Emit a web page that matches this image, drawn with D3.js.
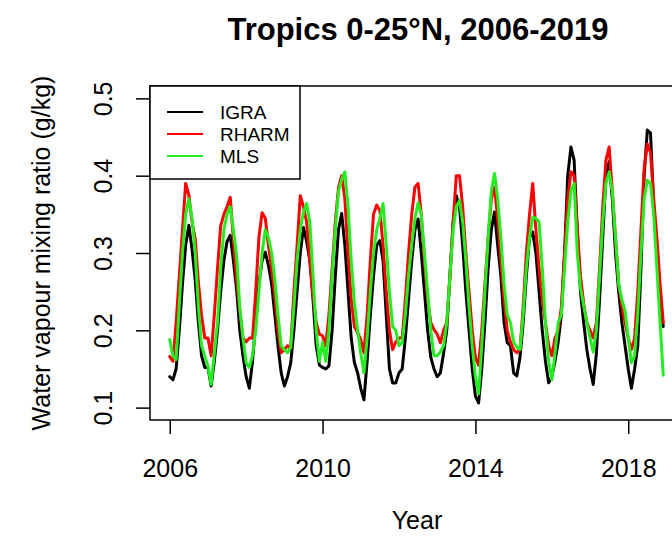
<!DOCTYPE html>
<html>
<head>
<meta charset="utf-8">
<script src="https://cdn.jsdelivr.net/npm/d3@7"></script>
<style>
    body { margin: 0; background: #fff; }
    svg text { font-family: "Liberation Sans", Arial, sans-serif; fill: #000; }
</style>
</head>
<body>
<div id="chart"></div>
<script>
// monthly means, Jan 2006 .. Dec 2018 (one row per year)
const startYear = 2006;

const igra = [
    0.140, 0.136, 0.150, 0.200, 0.260, 0.310, 0.336, 0.305, 0.265, 0.210, 0.167, 0.152,
    0.152, 0.128, 0.160, 0.200, 0.250, 0.290, 0.315, 0.323, 0.290, 0.253, 0.200, 0.167,
    0.140, 0.125, 0.160, 0.210, 0.260, 0.290, 0.301, 0.284, 0.260, 0.220, 0.180, 0.145,
    0.128, 0.140, 0.158, 0.200, 0.250, 0.300, 0.333, 0.315, 0.290, 0.240, 0.180, 0.155,
    0.152, 0.150, 0.154, 0.200, 0.270, 0.330, 0.351, 0.310, 0.250, 0.190, 0.158, 0.145,
    0.125, 0.110, 0.160, 0.220, 0.270, 0.310, 0.316, 0.290, 0.220, 0.150, 0.132, 0.132,
    0.145, 0.150, 0.190, 0.240, 0.290, 0.330, 0.344, 0.300, 0.250, 0.200, 0.165, 0.150,
    0.140, 0.145, 0.170, 0.200, 0.270, 0.340, 0.374, 0.360, 0.310, 0.250, 0.200, 0.150,
    0.115, 0.106, 0.150, 0.210, 0.280, 0.330, 0.353, 0.310, 0.270, 0.210, 0.184, 0.180,
    0.145, 0.141, 0.165, 0.210, 0.270, 0.320, 0.327, 0.300, 0.250, 0.200, 0.160, 0.132,
    0.140, 0.160, 0.185, 0.220, 0.300, 0.400, 0.437, 0.420, 0.330, 0.250, 0.210, 0.175,
    0.150, 0.130, 0.170, 0.240, 0.320, 0.400, 0.418, 0.370, 0.300, 0.250, 0.210, 0.180,
    0.150, 0.125, 0.150, 0.180, 0.280, 0.400, 0.459, 0.455, 0.360, 0.300, 0.240, 0.205,
];

const rharm = [
    0.166, 0.160, 0.210, 0.270, 0.330, 0.390, 0.375, 0.340, 0.318, 0.262, 0.219, 0.190,
    0.190, 0.167, 0.220, 0.280, 0.335, 0.350, 0.360, 0.372, 0.318, 0.265, 0.225, 0.190,
    0.185, 0.190, 0.190, 0.250, 0.320, 0.352, 0.345, 0.310, 0.280, 0.245, 0.200, 0.171,
    0.175, 0.180, 0.177, 0.250, 0.310, 0.374, 0.360, 0.340, 0.290, 0.245, 0.210, 0.195,
    0.193, 0.180, 0.220, 0.280, 0.340, 0.385, 0.400, 0.370, 0.300, 0.240, 0.205, 0.197,
    0.188, 0.171, 0.220, 0.290, 0.350, 0.362, 0.355, 0.310, 0.250, 0.200, 0.175, 0.185,
    0.190, 0.190, 0.240, 0.300, 0.350, 0.385, 0.390, 0.350, 0.290, 0.240, 0.210, 0.201,
    0.195, 0.184, 0.200, 0.210, 0.270, 0.340, 0.400, 0.400, 0.360, 0.300, 0.250, 0.200,
    0.165, 0.155, 0.200, 0.260, 0.320, 0.370, 0.385, 0.345, 0.290, 0.240, 0.200, 0.185,
    0.175, 0.171, 0.175, 0.230, 0.300, 0.350, 0.390, 0.330, 0.280, 0.240, 0.210, 0.180,
    0.167, 0.190, 0.200, 0.230, 0.300, 0.370, 0.405, 0.400, 0.330, 0.270, 0.235, 0.210,
    0.200, 0.190, 0.210, 0.280, 0.360, 0.420, 0.437, 0.380, 0.320, 0.260, 0.232, 0.210,
    0.190, 0.175, 0.190, 0.250, 0.330, 0.410, 0.441, 0.430, 0.370, 0.320, 0.260, 0.210,
];

const mls = [
    0.188, 0.167, 0.162, 0.232, 0.300, 0.350, 0.370, 0.345, 0.300, 0.230, 0.180, 0.167,
    0.154, 0.130, 0.170, 0.210, 0.280, 0.330, 0.350, 0.360, 0.330, 0.297, 0.230, 0.190,
    0.158, 0.152, 0.168, 0.200, 0.250, 0.300, 0.330, 0.320, 0.300, 0.266, 0.220, 0.180,
    0.175, 0.171, 0.178, 0.230, 0.290, 0.330, 0.353, 0.364, 0.340, 0.270, 0.200, 0.160,
    0.185, 0.160, 0.200, 0.270, 0.330, 0.380, 0.395, 0.405, 0.360, 0.290, 0.235, 0.200,
    0.170, 0.145, 0.190, 0.250, 0.300, 0.330, 0.345, 0.364, 0.310, 0.250, 0.205, 0.200,
    0.180, 0.184, 0.220, 0.270, 0.310, 0.345, 0.365, 0.350, 0.300, 0.250, 0.200, 0.167,
    0.167, 0.172, 0.180, 0.210, 0.270, 0.330, 0.360, 0.368, 0.340, 0.290, 0.230, 0.180,
    0.140, 0.118, 0.180, 0.250, 0.320, 0.380, 0.403, 0.370, 0.320, 0.260, 0.220, 0.210,
    0.185, 0.178, 0.175, 0.220, 0.280, 0.320, 0.346, 0.345, 0.340, 0.280, 0.210, 0.160,
    0.136, 0.170, 0.210, 0.220, 0.280, 0.340, 0.380, 0.390, 0.300, 0.255, 0.232, 0.210,
    0.190, 0.172, 0.200, 0.270, 0.340, 0.390, 0.405, 0.380, 0.320, 0.260, 0.240, 0.225,
    0.190, 0.158, 0.167, 0.220, 0.300, 0.370, 0.394, 0.390, 0.350, 0.280, 0.210, 0.142,
];

const seriesNames = ['IGRA', 'RHARM', 'MLS'];
const seriesColors = ['#000000', '#ff0000', '#22ee22'];
const xTicks = [2006, 2010, 2014, 2018];
const yTicks = [0.1, 0.2, 0.3, 0.4, 0.5];
const yLimits = [0.1, 0.5];

const chartTitle = 'Tropics 0-25°N, 2006-2019';
const xLabel = 'Year';
const yLabel = 'Water vapour mixing ratio (g/kg)';

class SeasonalChart {
    outerWidth = 672;
    outerHeight = 541;
    // plot box, R style; right edge runs past the picture
    box = { left: 150, top: 86, right: 683, bottom: 420 };
    series = [];

    constructor(node) {
        this.container = d3.select(node);
        this.container.selectAll('*').remove();
    }

    data = (list) => {
        this.series = list;
        return this;
    };

    // R pads each axis range by 4% on both ends
    padded = ([lo, hi]) => {
        const pad = (hi - lo) * 0.04;
        return [lo - pad, hi + pad];
    };

    render = () => {
        const { left, top, right, bottom } = this.box;
        const svg = this.container.append('svg')
            .attr('width', this.outerWidth)
            .attr('height', this.outerHeight);

        const n = this.series[0].values.length;
        const xDomain = this.padded([startYear, startYear + (n - 1) / 12]);
        const x = d3.scaleLinear().domain(xDomain).range([left, right]);
        const y = d3.scaleLinear().domain(this.padded(yLimits)).range([bottom, top]);

        const line = d3.line()
            .x((d, i) => x(startYear + i / 12))
            .y((d) => y(d));

        svg.append('g')
            .selectAll('path')
            .data(this.series)
            .join('path')
            .attr('d', (s) => line(s.values))
            .attr('fill', 'none')
            .attr('stroke', (s) => s.color)
            .attr('stroke-width', 3)
            .attr('stroke-linejoin', 'round')
            .attr('stroke-linecap', 'round');

        svg.append('rect')
            .attr('x', left).attr('y', top)
            .attr('width', right - left).attr('height', bottom - top)
            .attr('fill', 'none')
            .attr('stroke', '#000')
            .attr('stroke-width', 1.5);

        const xAxis = d3.axisBottom(x)
            .tickValues(xTicks)
            .tickSize(14)
            .tickFormat(d3.format('d'));
        const xg = svg.append('g')
            .attr('transform', `translate(0,${bottom})`)
            .call(xAxis);
        xg.select('.domain').remove();

        const yAxis = d3.axisLeft(y)
            .tickValues(yTicks)
            .tickSize(14)
            .tickFormat(d3.format('.1f'));
        const yg = svg.append('g')
            .attr('transform', `translate(${left},0)`)
            .call(yAxis);
        yg.select('.domain').remove();

        svg.selectAll('.tick line').attr('stroke', '#000').attr('stroke-width', 1.5);
        xg.selectAll('.tick text')
            .attr('font-size', 25)
            .attr('dy', null)
            .attr('y', 57);
        // R draws the side-2 labels parallel to the axis
        yg.selectAll('.tick text')
            .attr('font-size', 25)
            .attr('x', null).attr('dy', null)
            .attr('text-anchor', 'middle')
            .attr('transform', 'translate(-38,0) rotate(-90)');

        svg.append('text')
            .attr('x', 418).attr('y', 40)
            .attr('text-anchor', 'middle')
            .attr('font-size', 31)
            .attr('font-weight', 'bold')
            .text(chartTitle);
        svg.append('text')
            .attr('x', 417).attr('y', 529)
            .attr('text-anchor', 'middle')
            .attr('font-size', 25)
            .text(xLabel);
        svg.append('text')
            .attr('transform', `translate(50,${(top + bottom) / 2}) rotate(-90)`)
            .attr('text-anchor', 'middle')
            .attr('font-size', 25)
            .text(yLabel);

        this.renderLegend(svg);
        return this;
    };

    renderLegend = (svg) => {
        const { left, top } = this.box;
        const g = svg.append('g').attr('transform', `translate(${left},${top})`);
        g.append('rect')
            .attr('width', 150).attr('height', 93)
            .attr('fill', '#fff')
            .attr('stroke', '#000')
            .attr('stroke-width', 1.5);
        const rows = g.selectAll('.row')
            .data(this.series)
            .join('g')
            .attr('class', 'row')
            .attr('transform', (d, i) => `translate(0,${26 + i * 22})`);
        rows.append('line')
            .attr('x1', 17).attr('x2', 53)
            .attr('stroke', (d) => d.color)
            .attr('stroke-width', 2);
        rows.append('text')
            .attr('x', 70).attr('y', 7)
            .attr('font-size', 19)
            .text((d) => d.name);
    };
}

const values = [igra, rharm, mls];
new SeasonalChart('#chart')
    .data(seriesNames.map((name, i) => ({ name, color: seriesColors[i], values: values[i] })))
    .render();
</script>
</body>
</html>
